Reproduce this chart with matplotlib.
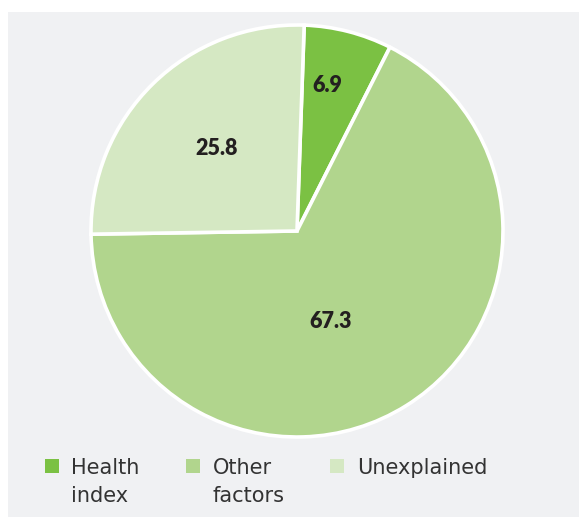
import matplotlib
matplotlib.use('Agg')
import matplotlib.pyplot as plt
from matplotlib.patches import Rectangle
import numpy as np

# data
labels = ['Health\nindex', 'Other\nfactors', 'Unexplained']
values = [6.9, 67.3, 25.8]
colors = ['#7bc143', '#b1d58d', '#d5e8c3']

# label placement: distance from centre (fraction of radius) and a
# clockwise nudge (degrees) from the middle of each wedge
label_r = [0.72, 0.47, 0.56]
label_nudge = [-2.8, 12, 0]

W, H, DPI = 579, 517, 100
fig = plt.figure(figsize=(W / DPI, H / DPI), dpi=DPI)
fig.patch.set_facecolor('white')

# grey panel
fig.patches.append(Rectangle((8 / W, 0), 1 - 8 / W, (H - 12) / H,
                             transform=fig.transFigure, facecolor='#f0f1f3',
                             edgecolor='none', zorder=-5))

# pie axes, centre (297, 231) px, radius 206 px
cx, cy, r = 297, 231, 206
ax = fig.add_axes([(cx - r) / W, (H - cy - r) / H, 2 * r / W, 2 * r / H])
ax.set_zorder(2)
ax.set_facecolor('none')
wedges, _ = ax.pie(values, colors=colors, startangle=88, counterclock=False,
                   radius=1.0,
                   wedgeprops=dict(edgecolor='white', linewidth=2.6))
ax.set_xlim(-1, 1)
ax.set_ylim(-1, 1)
ax.set_aspect('equal')
ax.axis('off')
for w in wedges:
    w.set_clip_on(False)

for w, v, rr, d in zip(wedges, values, label_r, label_nudge):
    mid = np.deg2rad((w.theta1 + w.theta2) / 2 - d)
    ax.text(rr * np.cos(mid), rr * np.sin(mid), f'{v:.1f}',
            ha='center', va='center', fontsize=15.5, fontweight='heavy',
            family='Lato', color='#231f20')

# legend, drawn by hand
mark_x = [45, 186, 330]
text_x = [71, 213, 357]
mark_top, mark_size = 459, 14
base_y = 474
for lab, col, mx, tx in zip(labels, colors, mark_x, text_x):
    fig.patches.append(Rectangle((mx / W, (H - mark_top - mark_size) / H),
                                 mark_size / W, mark_size / H,
                                 transform=fig.transFigure, facecolor=col,
                                 edgecolor='none', zorder=3))
    for k, line in enumerate(lab.split('\n')):
        fig.text(tx / W, (H - base_y - 28 * k) / H, line, ha='left',
                 va='baseline', fontsize=15, family='DejaVu Sans',
                 color='#333333', zorder=3)

fig.savefig('out.png', dpi=DPI)
